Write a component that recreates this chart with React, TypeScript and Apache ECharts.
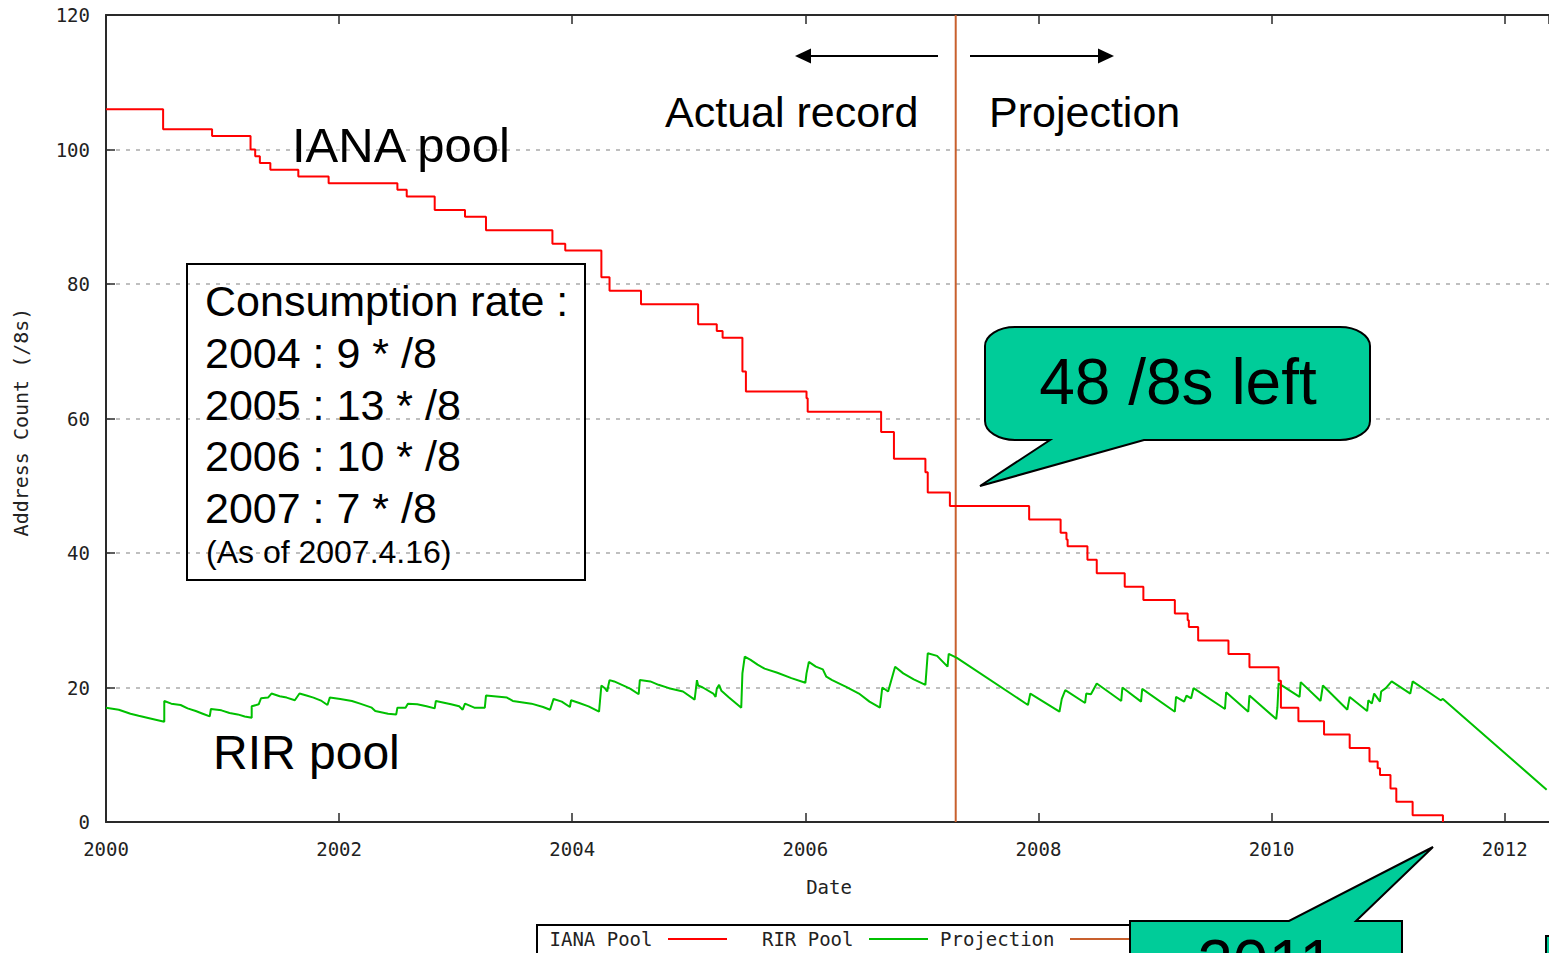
import React, { useEffect, useRef } from 'react';
import * as echarts from 'echarts';

// ---------- data ----------
const xMin = 2000;
const xMax = 2012.38;
const xTickLabels = ['2000', '2002', '2004', '2006', '2008', '2010', '2012'];
const yTickLabels = ['0', '20', '40', '60', '80', '100', '120'];

// IANA pool (/8s): date when the value starts, value
const ianaYears = [
  2000.0, 2000.49, 2000.91, 2001.24, 2001.28, 2001.32, 2001.41, 2001.65, 2001.91, 2002.5,
  2002.58, 2002.82, 2003.08, 2003.26, 2003.83, 2003.94, 2004.25, 2004.32, 2004.59, 2005.08,
  2005.24, 2005.29, 2005.46, 2005.49, 2006.01, 2006.02, 2006.65, 2006.76, 2007.03, 2007.05,
  2007.24, 2007.92, 2008.19, 2008.24, 2008.25, 2008.42, 2008.5, 2008.74, 2008.9, 2009.17,
  2009.28, 2009.29, 2009.37, 2009.63, 2009.81, 2010.06, 2010.08, 2010.23, 2010.45, 2010.67,
  2010.84, 2010.91, 2010.93, 2011.02, 2011.07, 2011.21, 2011.47,
];
const ianaValues = [
  106, 103, 102, 100, 99, 98, 97, 96, 95, 94,
  93, 91, 90, 88, 86, 85, 81, 79, 77, 74,
  73, 72, 67, 64, 63, 61, 58, 54, 52, 49,
  47, 45, 43, 42, 41, 39, 37, 35, 33, 31,
  30, 29, 27, 25, 23, 21, 17, 15, 13, 11,
  9, 8, 7, 5, 3, 1, 0,
];

// RIR pool (/8s): [date, value]
const rirPool: [number, number][] = [
  [2000.0, 17.0], [2000.11, 16.7], [2000.21, 16.1], [2000.28, 15.8], [2000.38, 15.4], [2000.5, 14.9],
  [2000.5, 18.0], [2000.56, 17.6], [2000.64, 17.4], [2000.7, 16.9], [2000.77, 16.5], [2000.83, 16.1],
  [2000.89, 15.7], [2000.9, 16.8], [2000.99, 16.6], [2001.06, 16.2], [2001.13, 16.0], [2001.19, 15.7],
  [2001.25, 15.5], [2001.25, 17.2], [2001.31, 17.5], [2001.33, 18.4], [2001.39, 18.5], [2001.42, 19.1],
  [2001.49, 18.7], [2001.55, 18.5], [2001.62, 18.1], [2001.66, 19.1], [2001.72, 18.8], [2001.78, 18.5],
  [2001.85, 18.0], [2001.9, 17.4], [2001.92, 18.5], [2002.01, 18.3], [2002.11, 18.0], [2002.18, 17.6],
  [2002.28, 17.0], [2002.31, 16.5], [2002.42, 16.1], [2002.49, 16.0], [2002.5, 17.0], [2002.57, 17.0],
  [2002.59, 17.6], [2002.67, 17.5], [2002.75, 17.2], [2002.82, 16.9], [2002.83, 18.0], [2002.91, 17.7],
  [2002.96, 17.5], [2003.03, 17.2], [2003.06, 16.7], [2003.08, 17.6], [2003.16, 17.0], [2003.25, 17.0],
  [2003.26, 18.8], [2003.44, 18.5], [2003.49, 18.0], [2003.65, 17.6], [2003.75, 17.1], [2003.81, 16.7],
  [2003.84, 18.3], [2003.91, 17.9], [2003.98, 17.1], [2003.99, 18.1], [2004.06, 17.7], [2004.14, 17.2],
  [2004.23, 16.4], [2004.25, 20.3], [2004.28, 19.9], [2004.3, 19.4], [2004.31, 20.3], [2004.32, 21.1],
  [2004.36, 20.9], [2004.45, 20.2], [2004.5, 19.8], [2004.57, 19.0], [2004.58, 21.1], [2004.67, 20.9],
  [2004.74, 20.4], [2004.83, 19.9], [2004.95, 19.4], [2005.05, 18.2], [2005.07, 21.1], [2005.08, 20.3],
  [2005.12, 20.0], [2005.21, 19.1], [2005.23, 18.6], [2005.24, 19.8], [2005.26, 20.4], [2005.28, 19.5],
  [2005.34, 18.6], [2005.45, 17.0], [2005.46, 22.1], [2005.48, 24.6], [2005.53, 24.1], [2005.59, 23.4],
  [2005.65, 22.8], [2005.76, 22.2], [2005.88, 21.4], [2006.0, 20.7], [2006.01, 22.1], [2006.03, 23.8],
  [2006.09, 23.1], [2006.15, 22.7], [2006.18, 21.6], [2006.23, 21.1], [2006.35, 20.1], [2006.46, 19.1],
  [2006.55, 17.9], [2006.64, 17.0], [2006.66, 20.0], [2006.71, 19.4], [2006.77, 23.1], [2006.84, 22.1],
  [2006.93, 21.2], [2007.03, 20.4], [2007.05, 25.1], [2007.13, 24.7], [2007.22, 23.1], [2007.23, 25.0],
  [2007.3, 24.4], [2007.91, 17.4], [2007.93, 19.1], [2008.18, 16.4], [2008.2, 18.3], [2008.23, 19.6],
  [2008.4, 17.7], [2008.41, 19.1], [2008.45, 19.0], [2008.5, 20.6], [2008.71, 18.0], [2008.72, 20.0],
  [2008.88, 17.9], [2008.89, 19.8], [2009.17, 16.4], [2009.18, 18.6], [2009.25, 17.9], [2009.27, 18.8],
  [2009.31, 18.4], [2009.33, 19.9], [2009.6, 16.8], [2009.61, 19.3], [2009.8, 16.4], [2009.81, 18.8],
  [2010.04, 15.3], [2010.05, 17.0], [2010.06, 20.6], [2010.24, 18.6], [2010.25, 20.8], [2010.42, 18.0],
  [2010.44, 20.3], [2010.65, 16.7], [2010.67, 18.6], [2010.82, 16.5], [2010.83, 18.1], [2010.86, 17.6],
  [2010.88, 19.1], [2010.93, 17.9], [2010.94, 19.4], [2010.98, 19.9], [2011.03, 20.9], [2011.19, 19.1],
  [2011.21, 20.9], [2011.45, 18.1], [2011.47, 18.3], [2012.36, 4.8],
];

// projection start: 2007.4.16
const projectionDate = 2007.29;
const projectionRange = [0, 120];

const seriesNames = ['IANA Pool', 'RIR Pool', 'Projection'];
const consumptionLines = ['Consumption rate :', '2004 : 9 * /8', '2005 : 13 * /8', '2006 : 10 * /8', '2007 : 7 * /8'];
const asOfNote = '(As of 2007.4.16)';

// ---------- styles ----------
const SANS = '"Liberation Sans", Arial, Helvetica, sans-serif';
const MONO = '"DejaVu Sans Mono", monospace';
const RED = '#ff0000';
const GREEN = '#00c000';
const ORANGE = '#c8602e';
const TEAL = '#00cc99';
const AXIS = '#2a2a2a';

export default function App() {
  const ref = useRef<HTMLDivElement>(null);

  useEffect(() => {
    const k = 0.55;
    const rx = 30;
    const ry = 19;
    const L = 985, R = 1370, T = 327, B = 440;
    const calloutD =
      `M ${L + rx} ${T} L ${R - rx} ${T} ` +
      `C ${R - rx + rx * k} ${T} ${R} ${T + ry - ry * k} ${R} ${T + ry} ` +
      `L ${R} ${B - ry} C ${R} ${B - ry + ry * k} ${R - rx + rx * k} ${B} ${R - rx} ${B} ` +
      `L 1144 ${B} L 980 486 L 1050 ${B} L ${L + rx} ${B} ` +
      `C ${L + rx - rx * k} ${B} ${L} ${B - ry + ry * k} ${L} ${B - ry} ` +
      `L ${L} ${T + ry} C ${L} ${T + ry - ry * k} ${L + rx - rx * k} ${T} ${L + rx} ${T} Z`;
    echarts.graphic.registerShape('callout48', echarts.graphic.extendPath(calloutD, {}));
    const callout2011D = 'M 1130 921 L 1289 921 L 1433 847 L 1356 921 L 1402 921 L 1402 1010 L 1130 1010 Z';
    echarts.graphic.registerShape('callout2011', echarts.graphic.extendPath(callout2011D, {}));

    const chart = echarts.init(ref.current!, null, { renderer: 'svg' });

    const axisLineStyle = { color: AXIS, width: 2 };
    const tickStyle = { show: true, inside: true, length: 9, lineStyle: { color: AXIS, width: 1.5 } };

    const graphic: any[] = [
      // axis names
      {
        type: 'text', x: 829, y: 887, z: 10,
        style: { text: 'Date', font: `19px ${MONO}`, fill: '#222', align: 'center', verticalAlign: 'middle' },
      },
      {
        type: 'text', x: 21, y: 422, rotation: Math.PI / 2, z: 10,
        style: { text: 'Address Count (/8s)', font: `20px ${MONO}`, fill: '#222', align: 'center', verticalAlign: 'middle' },
      },
      // big labels
      {
        type: 'text', x: 292, y: 145, z: 10,
        style: { text: 'IANA pool', font: `49px ${SANS}`, fill: '#000', align: 'left', verticalAlign: 'middle' },
      },
      {
        type: 'text', x: 213, y: 752, z: 10,
        style: { text: 'RIR pool', font: `48px ${SANS}`, fill: '#000', align: 'left', verticalAlign: 'middle' },
      },
      {
        type: 'text', x: 665, y: 112, z: 10,
        style: { text: 'Actual record', font: `43px ${SANS}`, fill: '#000', align: 'left', verticalAlign: 'middle' },
      },
      {
        type: 'text', x: 989, y: 112, z: 10,
        style: { text: 'Projection', font: `43px ${SANS}`, fill: '#000', align: 'left', verticalAlign: 'middle' },
      },
      // arrows
      { type: 'line', z: 10, shape: { x1: 938, y1: 56, x2: 808, y2: 56 }, style: { stroke: '#000', lineWidth: 2 } },
      { type: 'polygon', z: 10, shape: { points: [[795, 56], [811, 48.5], [811, 63.5]] }, style: { fill: '#000' } },
      { type: 'line', z: 10, shape: { x1: 970, y1: 56, x2: 1100, y2: 56 }, style: { stroke: '#000', lineWidth: 2 } },
      { type: 'polygon', z: 10, shape: { points: [[1114, 56], [1098, 48.5], [1098, 63.5]] }, style: { fill: '#000' } },
      // consumption box
      {
        type: 'rect', z: 10, shape: { x: 187, y: 264, width: 398, height: 316 },
        style: { fill: 'none', stroke: '#000', lineWidth: 2 },
      },
      ...consumptionLines.map((t, i) => ({
        type: 'text', x: 205, y: 301 + i * 51.8, z: 11,
        style: { text: t, font: `43px ${SANS}`, fill: '#000', align: 'left', verticalAlign: 'middle' },
      })),
      {
        type: 'text', x: 206, y: 552, z: 11,
        style: { text: asOfNote, font: `32px ${SANS}`, fill: '#000', align: 'left', verticalAlign: 'middle' },
      },
      // legend box
      {
        type: 'rect', z: 30, shape: { x: 537, y: 925, width: 603, height: 60 },
        style: { fill: '#fff', stroke: '#000', lineWidth: 2 },
      },
      ...seriesNames.map((n, i) => ({
        type: 'text', x: 652.5 + i * 201, y: 939, z: 31,
        style: { text: n, font: `19px ${MONO}`, fill: '#222', align: 'right', verticalAlign: 'middle' },
      })),
      ...[RED, GREEN, ORANGE].map((c, i) => ({
        type: 'line', z: 31,
        shape: { x1: 668 + i * 201, y1: 939, x2: 727 + i * 201, y2: 939 },
        style: { stroke: c, lineWidth: 2 },
      })),
      // callouts
      {
        type: 'callout48', x: 0, y: 0, z: 40,
        style: { fill: TEAL, stroke: '#000', lineWidth: 2 },
      },
      {
        type: 'text', x: 1178, y: 382, z: 41,
        style: { text: '48 /8s left', font: `64px ${SANS}`, fill: '#000', align: 'center', verticalAlign: 'middle' },
      },
      {
        type: 'callout2011', x: 0, y: 0, z: 40,
        style: { fill: TEAL, stroke: '#000', lineWidth: 2 },
      },
      {
        type: 'text', x: 1266, y: 963, z: 41,
        style: { text: '2011', font: `64px ${SANS}`, fill: '#000', align: 'center', verticalAlign: 'middle' },
      },
      {
        type: 'rect', z: 40, shape: { x: 1546, y: 936, width: 60, height: 60 },
        style: { fill: TEAL, stroke: '#000', lineWidth: 2 },
      },
    ];

    const option: any = {
      animation: false,
      backgroundColor: '#ffffff',
      grid: { left: 106, top: 15, width: 1446, height: 807, containLabel: false },
      xAxis: [
        {
          type: 'value', min: xMin, max: xMax, interval: 2, position: 'bottom',
          axisLine: { show: true, onZero: false, lineStyle: axisLineStyle },
          axisTick: tickStyle,
          axisLabel: {
            show: true, margin: 17, fontFamily: MONO, fontSize: 19, color: '#222', showMaxLabel: false,
            formatter: (v: number) => (xTickLabels.includes(String(v)) ? String(v) : ''),
          },
          splitLine: { show: false },
        },
        {
          type: 'value', min: xMin, max: xMax, interval: 2, position: 'top',
          axisLine: { show: true, onZero: false, lineStyle: axisLineStyle },
          axisTick: tickStyle,
          axisLabel: { show: false },
          splitLine: { show: false },
        },
      ],
      yAxis: [
        {
          type: 'value', min: 0, max: 120, interval: 20, position: 'left',
          axisLine: { show: true, onZero: false, lineStyle: axisLineStyle },
          axisTick: tickStyle,
          axisLabel: {
            show: true, margin: 16, fontFamily: MONO, fontSize: 19, color: '#222',
            formatter: (v: number) => (yTickLabels.includes(String(v)) ? String(v) : ''),
          },
          splitLine: { show: true, lineStyle: { color: '#aaaaaa', width: 1.5, type: [4, 6] } },
        },
      ],
      series: [
        {
          name: seriesNames[0], type: 'line', step: 'end', symbol: 'none', z: 4,
          data: ianaYears.map((x, i) => [x, ianaValues[i]]),
          lineStyle: { color: RED, width: 2 }, itemStyle: { color: RED },
        },
        {
          name: seriesNames[1], type: 'line', symbol: 'none', z: 3,
          data: rirPool,
          lineStyle: { color: GREEN, width: 2 }, itemStyle: { color: GREEN },
        },
        {
          name: seriesNames[2], type: 'line', symbol: 'none', z: 2,
          data: projectionRange.map((v) => [projectionDate, v]),
          lineStyle: { color: ORANGE, width: 2 }, itemStyle: { color: ORANGE },
        },
      ],
      graphic,
    };

    chart.setOption(option);
    return () => chart.dispose();
  }, []);

  return (
    <div
      ref={ref}
      style={{ position: 'fixed', left: 0, top: 0, width: 1549, height: 953, background: '#fff', overflow: 'hidden' }}
    />
  );
}
